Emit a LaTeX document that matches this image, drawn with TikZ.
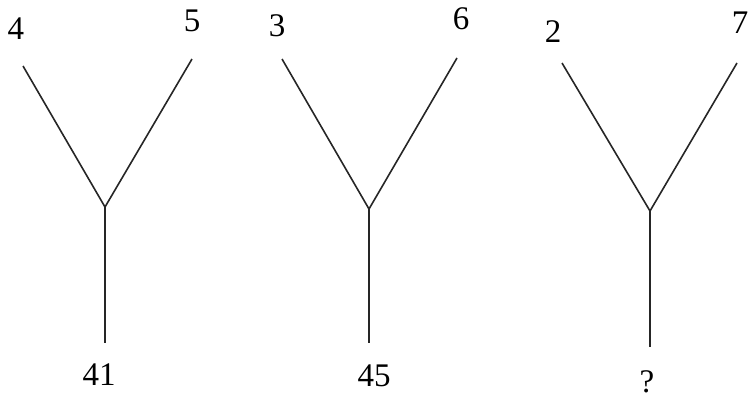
\documentclass[tikz,border=0pt]{standalone}
\usepackage{fontspec}
\setmainfont{Liberation Serif}
\begin{document}
\begin{tikzpicture}[x=1pt,y=-1pt,
  num/.style={inner sep=0pt,font=\fontsize{33}{36}\selectfont},
  stroke/.style={line width=1.6pt,color=black!85}]
\useasboundingbox (0,0) rectangle (750,399);
% Y 1
\coordinate (a1) at (23,66);
\coordinate (b1) at (192,59);
\coordinate (j1) at (105,207);
\coordinate (e1) at (105,343);
\node[num] (la1) at (16,29) {4};
\node[num] (lb1) at (192,21) {5};
\node[num] (r1) at (99,375) {41};
\draw[stroke] (a1) -- (j1) -- (b1);
\draw[stroke] (j1) -- (e1);
% Y 2
\coordinate (a2) at (282,59);
\coordinate (b2) at (457,58);
\coordinate (j2) at (369,209);
\coordinate (e2) at (369,343);
\node[num] (la2) at (277,26) {3};
\node[num] (lb2) at (461,19) {6};
\node[num] (r2) at (374,376) {45};
\draw[stroke] (a2) -- (j2) -- (b2);
\draw[stroke] (j2) -- (e2);
% Y 3
\coordinate (a3) at (562,63);
\coordinate (b3) at (737,63);
\coordinate (j3) at (650,211);
\coordinate (e3) at (650,347);
\node[num] (la3) at (553,32) {2};
\node[num] (lb3) at (740,23) {7};
\node[num] (r3) at (647,382) {?};
\draw[stroke] (a3) -- (j3) -- (b3);
\draw[stroke] (j3) -- (e3);
\end{tikzpicture}
\end{document}
